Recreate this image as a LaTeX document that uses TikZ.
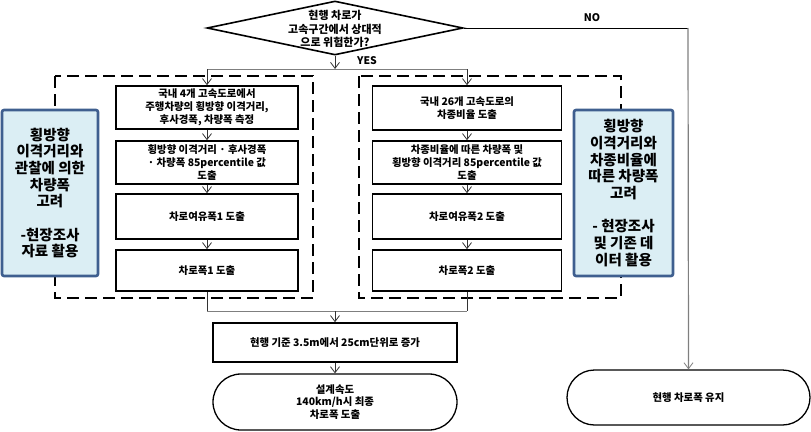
\documentclass[tikz,border=0pt]{standalone}
\usepackage{fontspec}
\setmainfont{Noto Sans CJK KR}
\usetikzlibrary{shapes.geometric,arrows.meta}
\definecolor{bluefill}{HTML}{DBEEF4}
\definecolor{blueline}{HTML}{3F5F8F}
\definecolor{lgray}{HTML}{7F7F7F}
\tikzset{
  stepbox/.style={draw=black,line width=1.6pt,fill=white,align=center,inner sep=1pt,
    font=\fontsize{10.4}{12.8}\selectfont\bfseries},
  notebox/.style={draw=blueline,line width=2.6pt,fill=bluefill,rounded corners=2pt,align=center,
    inner sep=0pt,font=\fontsize{14.5}{16.7}\selectfont\bfseries},
  groupbox/.style={draw=black,line width=1.8pt,dash pattern=on 12pt off 6pt},
  endbox/.style={draw=black,line width=1.3pt,fill=white,align=center,
    font=\fontsize{10.4}{12.8}\selectfont\bfseries},
  arr/.style={-{Straight Barb[length=6pt,width=9pt,line width=0.8pt]},line width=0.8pt,draw=black!80},
  gline/.style={line width=1pt,draw=lgray},
  lbl/.style={font=\fontsize{10.5}{12}\selectfont\bfseries}
}
\begin{document}
\begin{tikzpicture}[x=1pt,y=-1pt]
\useasboundingbox (0,0) rectangle (811,431);
% dashed group boxes
\draw[groupbox] (55,76) rectangle (313,298);
\draw[groupbox] (359,76) rectangle (621,298);
% decision
\node[draw=black,line width=1.6pt,diamond,minimum width=256,minimum height=54,inner sep=0pt,fill=white] (d) at (335,28) {};
\node[align=center,font=\fontsize{11}{13.3}\selectfont\bfseries] (dtext) at (335,29) {현행 차로가\\고속구간에서 상대적\\으로 위험한가?};
% left column
\node[stepbox,minimum width=182,minimum height=43] (L1) at (207,107.5) {국내 4개 고속도로에서\\주행차량의 횡방향 이격거리,\\후사경폭, 차량폭 측정};
\node[stepbox,minimum width=182,minimum height=43] (L2) at (207,162.5) {횡방향 이격거리 · 후사경폭\\· 차량폭 85percentile 값\\도출};
\node[stepbox,minimum width=182,minimum height=45] (L3) at (207,216.5) {차로여유폭1 도출};
\node[stepbox,minimum width=182,minimum height=41] (L4) at (207,270.5) {차로폭1 도출};
% right column
\node[stepbox,minimum width=189,minimum height=44] (R1) at (467,108) {국내 26개 고속도로의\\차종비율 도출};
\node[stepbox,minimum width=189,minimum height=43] (R2) at (467,162.5) {차종비율에 따른 차량폭 및\\횡방향 이격거리 85percentile 값\\도출};
\node[stepbox,minimum width=189,minimum height=45] (R3) at (467,216.5) {차로여유폭2 도출};
\node[stepbox,minimum width=189,minimum height=41] (R4) at (467,270.5) {차로폭2 도출};
% note boxes
\node[notebox,minimum width=96,minimum height=166] (N1) at (50,193) {횡방향\\이격거리와\\관찰에 의한\\차량폭\\고려\\[16.7pt]-현장조사\\자료 활용};
\node[notebox,minimum width=99,minimum height=166] (N2) at (623.5,193) {횡방향\\이격거리와\\차종비율에\\따른 차량폭\\고려\\[16.7pt]- 현장조사\\및 기존 데\\이터 활용};
% bottom
\node[stepbox,minimum width=244,minimum height=39] (M) at (335,342.5) {현행 기준 3.5m에서 25cm단위로 증가};
\node[endbox,minimum width=244,minimum height=56,rounded corners=28pt] (E1) at (335,402) {설계속도\\140km/h시 최종\\차로폭 도출};
\node[endbox,minimum width=243,minimum height=55,rounded corners=27.5pt] (E2) at (688.5,397.5) {현행 차로폭 유지};
% junction coordinates
\coordinate (yes) at (335,69);
\coordinate (yl) at (207,69);
\coordinate (yr) at (467,69);
\coordinate (bl) at (207,311);
\coordinate (br) at (467,311);
\coordinate (bm) at (335,311);
\coordinate (nc) at (688,28);
% connectors
\draw[gline] (yl) -- (yr);
\draw[arr] (d.south) -- (yes);
\draw[arr] (yl) -- (L1.north);
\draw[arr] (yr) -- (R1.north);
\draw[arr] (L1) -- (L2);
\draw[arr] (L2) -- (L3);
\draw[arr] (L3) -- (L4);
\draw[arr] (R1) -- (R2);
\draw[arr] (R2) -- (R3);
\draw[arr] (R3) -- (R4);
\draw[line width=0.8pt,draw=black!80] (L4.south) -- (bl);
\draw[line width=0.8pt,draw=black!80] (R4.south) -- (br);
\draw[gline] (bl) -- (br);
\draw[arr] (bm) -- (M.north);
\draw[arr] (M) -- (E1);
\draw[line width=0.8pt,draw=black] (d.east) -- (nc);
\draw[arr,draw=lgray,line width=1.2pt] (nc) -- (E2.north);
% labels
\node[lbl] (yeslbl) at (367,61) {YES};
\node[lbl] (nolbl) at (592,18) {NO};
\end{tikzpicture}
\end{document}
